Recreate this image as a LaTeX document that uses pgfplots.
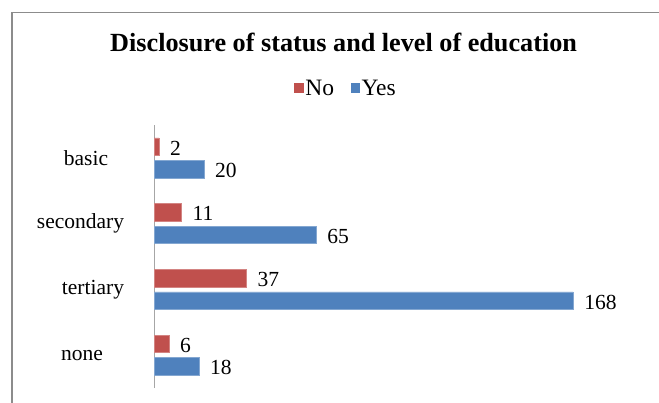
\documentclass[border=0pt]{standalone}
\usepackage{pgfplots}
\pgfplotsset{compat=1.18}
\usepackage{fontspec}
\setmainfont{Liberation Serif}
\definecolor{cNo}{HTML}{C0504D}
\definecolor{cYes}{HTML}{4F81BD}
\definecolor{frm}{HTML}{8C8C8C}
\begin{document}
\begin{tikzpicture}
\useasboundingbox (0pt,0pt) rectangle (659pt,-403pt);
\draw[frm, line width=1.5pt] (12pt,-403pt) -- (12pt,-12.5pt) -- (659pt,-12.5pt);
\begin{axis}[
  at={(154pt,-388pt)}, anchor=south west,
  scale only axis, width=499pt, height=263pt,
  xbar, xmin=0, xmax=200, ymin=-0.5, ymax=3.5,
  /pgf/number format/assume math mode=true,
  axis x line=none, axis y line=left,
  y axis line style={-, draw=gray!70, line width=1pt},
  ytick={0,1,2,3},
  yticklabels={none\hspace*{6pt},\hspace*{16pt}tertiary,secondary\hspace*{9pt},\hspace*{2pt}basic},
  major tick length=0pt,
  yticklabel style={anchor=center, xshift=-69pt, font=\fontsize{21.5}{25}\selectfont},
  bar width=17.5pt,
  nodes near coords,
  nodes near coords style={anchor=west, inner sep=0pt, xshift=11pt, yshift=-1.5pt, font=\fontsize{21.5}{25}\selectfont, text=black},
  legend style={at={(0.3845,1.14)}, anchor=center, draw=none, legend columns=2,
    font=\fontsize{23.5}{27}\selectfont,
    nodes={inner xsep=1.5pt},
    /tikz/every even column/.append style={column sep=15pt}},
  legend image code/.code={\fill[#1, draw=none] (0pt,-4.75pt) rectangle (9.5pt,4.75pt);},
  title={Disclosure of status and level of education},
  title style={at={(0.38,1.29)}, anchor=center, font=\fontsize{26.2}{30}\selectfont\bfseries},
]
\addplot[fill=cNo, draw=cNo!70!white, bar shift=11.3pt] coordinates {(2,3) (11,2) (37,1) (6,0)};
\addplot[fill=cYes, draw=cYes!70!white, bar shift=-11.3pt] coordinates {(20,3) (65,2) (168,1) (18,0)};
\legend{No,Yes}
\end{axis}
\end{tikzpicture}
\end{document}
